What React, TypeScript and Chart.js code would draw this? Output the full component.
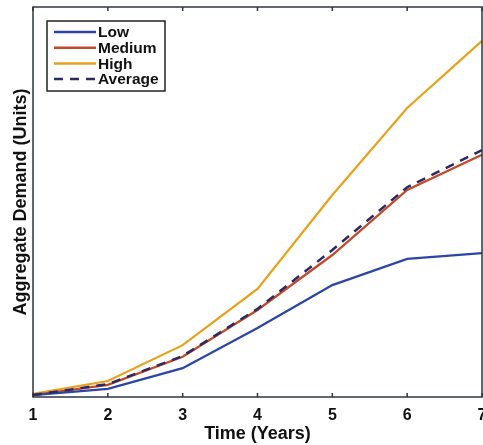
import React, { useEffect, useRef } from "react";
import { Chart, registerables } from "chart.js";

Chart.register(...registerables);

const categories = ["1", "2", "3", "4", "5", "6", "7"];
const lowValues = [0.5, 2.1, 7.4, 17.7, 28.7, 35.4, 36.9];
const mediumValues = [0.5, 3.1, 10.3, 22.3, 36.4, 53.1, 62.1];
const highValues = [0.8, 4.1, 13.3, 27.7, 51.8, 74.1, 91.3];
const averageValues = [0.5, 3.3, 10.5, 22.6, 37.7, 53.8, 63.3];
const seriesNames = ["Low", "Medium", "High", "Average"];

const FONT = "'Liberation Sans', Arial, Helvetica, sans-serif";

const framePlugin = {
  id: "frame",
  afterDraw(chart: any) {
    const { ctx, chartArea } = chart;
    const { left, top, right, bottom } = chartArea;
    const xs = chart.scales.x;
    ctx.save();
    ctx.strokeStyle = "#2f3440";
    ctx.lineWidth = 1.5;
    ctx.strokeRect(left, top, right - left, bottom - top);
    ctx.beginPath();
    for (let i = 0; i < categories.length; i++) {
      const px = xs.getPixelForValue(i);
      ctx.moveTo(px, bottom);
      ctx.lineTo(px, bottom - 4);
      ctx.moveTo(px, top);
      ctx.lineTo(px, top + 4);
    }
    ctx.stroke();

    // legend
    const bx = 47, by = 21, bw = 118, bh = 70;
    ctx.fillStyle = "#ffffff";
    ctx.fillRect(bx, by, bw, bh);
    ctx.strokeStyle = "#222222";
    ctx.lineWidth = 1.5;
    ctx.strokeRect(bx, by, bw, bh);
    chart.data.datasets.forEach((ds: any, i: number) => {
      const y = 32 + i * 15.7;
      ctx.beginPath();
      ctx.strokeStyle = ds.borderColor;
      ctx.lineWidth = 2.5;
      ctx.setLineDash(ds.borderDash || []);
      ctx.moveTo(54, y);
      ctx.lineTo(96, y);
      ctx.stroke();
      ctx.setLineDash([]);
      ctx.fillStyle = "#111111";
      ctx.font = `bold 15.5px ${FONT}`;
      ctx.textBaseline = "middle";
      ctx.textAlign = "left";
      ctx.fillText(ds.label, 98, y + 1);
    });
    ctx.restore();
  },
};

export default function App() {
  const ref = useRef<HTMLCanvasElement>(null);
  useEffect(() => {
    if (!ref.current) return;
    const chart = new Chart(ref.current, {
      type: "line",
      data: {
        labels: categories,
        datasets: [
          { label: seriesNames[0], data: lowValues, borderColor: "#2c46a6", borderWidth: 2.3, pointRadius: 0, tension: 0, order: 1 },
          { label: seriesNames[1], data: mediumValues, borderColor: "#c24a28", borderWidth: 2.3, pointRadius: 0, tension: 0, order: 1 },
          { label: seriesNames[2], data: highValues, borderColor: "#e8a21a", borderWidth: 2.2, pointRadius: 0, tension: 0, order: 1 },
          { label: seriesNames[3], data: averageValues, borderColor: "#2b2a66", borderWidth: 2.5, borderDash: [9, 7], pointRadius: 0, tension: 0, order: 0 },
        ],
      },
      options: {
        responsive: false,
        animation: false,
        layout: { padding: { top: 7, right: 58, left: 0, bottom: 0 } },
        plugins: { legend: { display: false }, tooltip: { enabled: false } },
        scales: {
          x: {
            grid: { display: false, drawTicks: false },
            border: { display: false },
            ticks: { color: "#111", font: { family: FONT, size: 16, weight: "bold" }, padding: 9, maxRotation: 0, autoSkip: false },
            title: { display: true, text: "Time (Years)", color: "#111", font: { family: FONT, size: 18, weight: "bold" }, padding: { top: 0, bottom: 0 } },
            afterFit: (axis: any) => { axis.height = 48; },
          },
          y: {
            min: 0,
            max: 100,
            grid: { display: false, drawTicks: false },
            border: { display: false },
            ticks: { display: false },
            title: { display: true, text: "Aggregate Demand (Units)", color: "#111", font: { family: FONT, size: 18, weight: "bold" }, padding: { top: 10, bottom: 0 } },
            afterFit: (axis: any) => { axis.width = 33; },
          },
        },
      },
      plugins: [framePlugin],
    });
    return () => chart.destroy();
  }, []);
  return (
    <div style={{ position: "absolute", left: 0, top: 0, width: 483, height: 445, overflow: "hidden", background: "#fff" }}>
      <canvas ref={ref} width={540} height={445} style={{ width: 540, height: 445 }} />
    </div>
  );
}
